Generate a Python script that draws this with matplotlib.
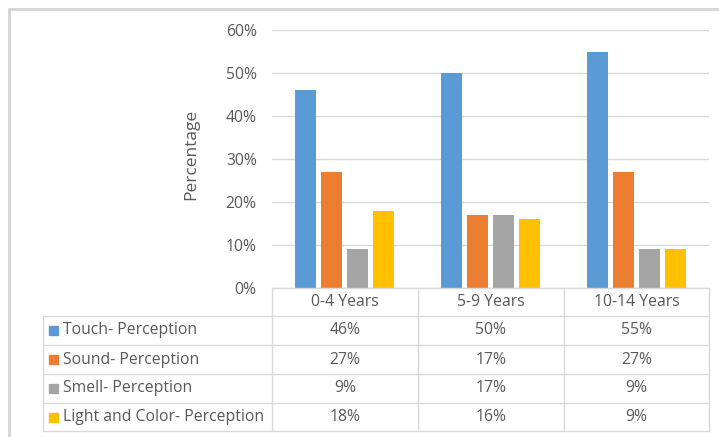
import numpy as np
import matplotlib.pyplot as plt
from matplotlib.patches import Rectangle

plt.rcParams['font.family'] = ['Open Sans', 'DejaVu Sans']

# Data
groups = ['0-4 Years', '5-9 Years', '10-14 Years']
series = ['Touch- Perception', 'Sound- Perception', 'Smell- Perception',
          'Light and Color- Perception']
touch = [46, 50, 55]
sound = [27, 17, 27]
smell = [9, 17, 9]
light = [18, 16, 9]
values = [touch, sound, smell, light]
colors = ['#5B9BD5', '#ED7D31', '#A5A5A5', '#FFC000']
yticks = [0, 10, 20, 30, 40, 50, 60]

W, H = 719, 437
text_c = '#595959'
line_c = '#D9D9D9'
fs = 11.3

fig = plt.figure(figsize=(W / 100, H / 100), dpi=100)

# plot area in pixels
x0, x1 = 272, 709
y_top, y_bot = 30, 288
ax = fig.add_axes([x0 / W, 1 - y_bot / H, (x1 - x0) / W, (y_bot - y_top) / H])

x = np.arange(len(groups))
bw = 21 / 145.7
step = 26 / 145.7
for i, (vals, c) in enumerate(zip(values, colors)):
    ax.bar(x + (i - 1.5) * step, vals, width=bw, color=c, zorder=3)

ax.set_xlim(-0.5, len(groups) - 0.5)
ax.set_ylim(0, 60)
ax.set_yticks(yticks)
ax.set_yticklabels([f'{v}%' for v in yticks], color=text_c, fontsize=fs)
ax.tick_params(axis='y', length=0, pad=11)
ax.set_xticks([])
ax.grid(axis='y', color=line_c, linewidth=1, zorder=0)
for s in ax.spines.values():
    s.set_visible(False)

fig.text(191 / W, 1 - 154 / H, 'Percentage', rotation=90, ha='center', va='center',
         color=text_c, fontsize=12.5)

# overlay in pixel coordinates for the data table and frame
ov = fig.add_axes([0, 0, 1, 1])
ov.set_xlim(0, W)
ov.set_ylim(H, 0)
ov.axis('off')
ov.patch.set_alpha(0)

# outer chart frame
ov.plot([8.5, 8.5, W], [H, 8.5, 8.5], color='#D4D4D4', lw=2)

col_x = [43, 272, 418, 564, 709]
row_y = [288, 316, 345, 374, 403, 431]
# horizontal lines
ov.plot([col_x[1], col_x[-1]], [row_y[0], row_y[0]], color=line_c, lw=1)
for yy in row_y[1:]:
    ov.plot([col_x[0], col_x[-1]], [yy, yy], color=line_c, lw=1)
# vertical lines
ov.plot([col_x[0], col_x[0]], [row_y[1], row_y[-1]], color=line_c, lw=1)
for xx in col_x[1:]:
    ov.plot([xx, xx], [row_y[0], row_y[-1]], color=line_c, lw=1)

# header
for j, g in enumerate(groups):
    ov.text((col_x[j + 1] + col_x[j + 2]) / 2, (row_y[0] + row_y[1]) / 2, g,
            ha='center', va='center', color=text_c, fontsize=fs)

# rows
for i, (name, vals, c) in enumerate(zip(series, values, colors)):
    yc = (row_y[i + 1] + row_y[i + 2]) / 2
    ov.add_patch(Rectangle((49, yc - 4.5), 9, 9, color=c))
    ov.text(63, yc, name, ha='left', va='center', color=text_c, fontsize=fs)
    for j, v in enumerate(vals):
        ov.text((col_x[j + 1] + col_x[j + 2]) / 2, yc, f'{v}%',
                ha='center', va='center', color=text_c, fontsize=fs)

fig.savefig('out.png', dpi=100)
